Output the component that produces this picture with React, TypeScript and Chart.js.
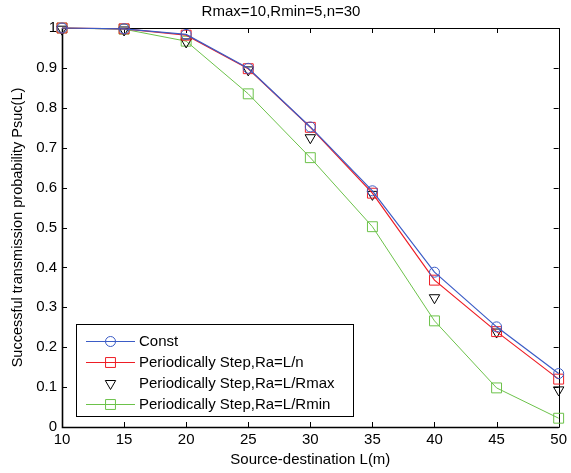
import React, { useEffect, useRef } from 'react';
import { Chart, registerables } from 'chart.js';
import { drawPoint } from 'chart.js/helpers';

Chart.register(...registerables);

const chartTitle = 'Rmax=10,Rmin=5,n=30';
const xAxisTitle = 'Source-destination L(m)';
const yAxisTitle = 'Successful transmission probability Psuc(L)';

const distances = [10, 15, 20, 25, 30, 35, 40, 45, 50];
const constP = [1, 0.998, 0.984, 0.899, 0.752, 0.592, 0.388, 0.251, 0.134];
const stepN = [1, 0.998, 0.982, 0.898, 0.751, 0.586, 0.368, 0.239, 0.12];
const stepRmax = [0.997, 0.995, 0.965, 0.895, 0.725, 0.583, 0.324, 0.238, 0.093];
const stepRmin = [1, 0.997, 0.967, 0.835, 0.675, 0.502, 0.266, 0.098, 0.022];

const seriesLabels = [
  'Const',
  'Periodically Step,Ra=L/n',
  'Periodically Step,Ra=L/Rmax',
  'Periodically Step,Ra=L/Rmin',
];

const xTickValues = [10, 15, 20, 25, 30, 35, 40, 45, 50];
const xTickLabels = ['10', '15', '20', '25', '30', '35', '40', '45', '50'];
const yTickValues = [0, 0.1, 0.2, 0.3, 0.4, 0.5, 0.6, 0.7, 0.8, 0.9, 1];
const yTickLabels = ['0', '0.1', '0.2', '0.3', '0.4', '0.5', '0.6', '0.7', '0.8', '0.9', '1'];

const FONT = 'Arial, "Liberation Sans", sans-serif';

const toPoints = (ys: number[]) => ys.map((y, i) => ({ x: distances[i], y }));

const framePlugin = {
  id: 'matlabFrame',
  beforeDatasetsDraw(chart: any) {
    const { ctx, chartArea } = chart;
    const { left, right, top, bottom } = chartArea;
    const xs = chart.scales.x;
    const ys = chart.scales.y;
    const tl = 5;
    ctx.save();
    ctx.strokeStyle = '#000';
    ctx.lineWidth = 1;
    ctx.beginPath();
    ctx.rect(Math.round(left) + 0.5, Math.round(top) + 0.5, Math.round(right - left), Math.round(bottom - top));
    ctx.stroke();
    ctx.beginPath();
    xTickValues.forEach((v) => {
      const px = Math.round(xs.getPixelForValue(v)) + 0.5;
      ctx.moveTo(px, bottom);
      ctx.lineTo(px, bottom - tl);
      ctx.moveTo(px, top);
      ctx.lineTo(px, top + tl);
    });
    yTickValues.forEach((v) => {
      const py = Math.round(ys.getPixelForValue(v)) + 0.5;
      ctx.moveTo(left, py);
      ctx.lineTo(left + tl, py);
      ctx.moveTo(right, py);
      ctx.lineTo(right - tl, py);
    });
    ctx.stroke();
    // thicker left and bottom axis lines
    ctx.lineWidth = 1.6;
    ctx.beginPath();
    ctx.moveTo(left + 0.5, top);
    ctx.lineTo(left + 0.5, bottom + 0.5);
    ctx.lineTo(right, bottom + 0.5);
    ctx.stroke();
    ctx.restore();
  },
};

const legendPlugin = {
  id: 'matlabLegend',
  afterDraw(chart: any) {
    const { ctx, chartArea } = chart;
    const boxLeft = chartArea.left + 14;
    const boxRight = chartArea.left + 291;
    const boxBottom = chartArea.bottom - 11;
    const rowH = 21;
    const n = chart.data.datasets.length;
    const boxTop = boxBottom - 92;
    ctx.save();
    ctx.fillStyle = '#fff';
    ctx.fillRect(boxLeft, boxTop, boxRight - boxLeft, boxBottom - boxTop);
    ctx.strokeStyle = '#000';
    ctx.lineWidth = 1;
    ctx.strokeRect(Math.round(boxLeft) + 0.5, Math.round(boxTop) + 0.5, Math.round(boxRight - boxLeft), Math.round(boxBottom - boxTop));
    ctx.font = '15px ' + FONT;
    ctx.textBaseline = 'middle';
    ctx.textAlign = 'left';
    for (let i = 0; i < n; i++) {
      const ds = chart.data.datasets[i];
      const y = boxTop + 17 + i * rowH;
      const x0 = boxLeft + 10;
      const x1 = boxLeft + 59;
      if (ds.showLine !== false) {
        ctx.strokeStyle = ds.borderColor;
        ctx.lineWidth = ds.borderWidth;
        ctx.beginPath();
        ctx.moveTo(x0, y + 0.5);
        ctx.lineTo(x1, y + 0.5);
        ctx.stroke();
      }
      ctx.strokeStyle = ds.pointBorderColor;
      ctx.fillStyle = 'rgba(0,0,0,0)';
      ctx.lineWidth = ds.pointBorderWidth;
      drawPoint(ctx, {
        pointStyle: ds.pointStyle,
        rotation: ds.pointRotation || 0,
        radius: ds.pointRadius,
        borderWidth: ds.pointBorderWidth,
      } as any, (x0 + x1) / 2, y + 0.5);
      ctx.fillStyle = '#000';
      ctx.fillText(ds.label, boxLeft + 63, y + 1);
    }
    ctx.restore();
  },
};

export default function App() {
  const canvasRef = useRef<HTMLCanvasElement | null>(null);

  useEffect(() => {
    const canvas = canvasRef.current;
    if (!canvas) return;
    const blue = '#3b5cc6';
    const red = '#ee1d25';
    const black = '#000000';
    const green = '#6cc24a';
    const chart = new Chart(canvas, {
      type: 'line',
      data: {
        datasets: [
          {
            label: seriesLabels[0],
            data: toPoints(constP),
            borderColor: blue,
            borderWidth: 1.2,
            pointStyle: 'circle',
            pointRadius: 5,
            pointBorderColor: blue,
            pointBorderWidth: 1,
            pointBackgroundColor: 'rgba(0,0,0,0)',
            clip: false,
          },
          {
            label: seriesLabels[1],
            data: toPoints(stepN),
            borderColor: red,
            borderWidth: 1.2,
            pointStyle: 'rect',
            pointRadius: 7,
            pointBorderColor: red,
            pointBorderWidth: 1,
            pointBackgroundColor: 'rgba(0,0,0,0)',
            clip: false,
          },
          {
            label: seriesLabels[2],
            data: toPoints(stepRmax),
            borderColor: black,
            borderWidth: 1,
            showLine: false,
            pointStyle: 'triangle',
            pointRotation: 180,
            pointRadius: 6,
            pointBorderColor: black,
            pointBorderWidth: 1,
            pointBackgroundColor: 'rgba(0,0,0,0)',
            clip: false,
          },
          {
            label: seriesLabels[3],
            data: toPoints(stepRmin),
            borderColor: green,
            borderWidth: 1,
            pointStyle: 'rect',
            pointRadius: 7,
            pointBorderColor: green,
            pointBorderWidth: 1,
            pointBackgroundColor: 'rgba(0,0,0,0)',
            clip: false,
          },
        ] as any,
      },
      options: {
        animation: false,
        responsive: false,
        devicePixelRatio: 1,
        layout: { padding: { top: 0, right: 9, left: 0, bottom: 0 } },
        plugins: {
          legend: { display: false },
          tooltip: { enabled: false },
          title: {
            display: true,
            text: chartTitle,
            color: '#000',
            font: { family: FONT, size: 15, weight: 'normal' },
            padding: { top: 3, bottom: 7 },
          },
        },
        elements: { line: { tension: 0 } },
        scales: {
          x: {
            type: 'linear',
            min: 10,
            max: 50,
            grid: { display: false, drawTicks: false },
            border: { display: false },
            afterBuildTicks: (scale: any) => {
              scale.ticks = xTickValues.map((v) => ({ value: v }));
            },
            afterFit: (scale: any) => {
              scale.height = 46;
            },
            ticks: {
              autoSkip: false,
              maxRotation: 0,
              padding: 4,
              color: '#000',
              font: { family: FONT, size: 15 },
              callback: (v: any) => xTickLabels[xTickValues.indexOf(Number(v))],
            },
            title: {
              display: true,
              text: xAxisTitle,
              color: '#000',
              font: { family: FONT, size: 15 },
              padding: { top: 0, bottom: 4 },
            },
          },
          y: {
            min: 0,
            max: 1,
            grid: { display: false, drawTicks: false },
            border: { display: false },
            afterBuildTicks: (scale: any) => {
              scale.ticks = yTickValues.map((v) => ({ value: v }));
            },
            afterFit: (scale: any) => {
              scale.width = 62;
            },
            ticks: {
              autoSkip: false,
              padding: 5,
              color: '#000',
              font: { family: FONT, size: 15 },
              callback: (v: any) => {
                const i = yTickValues.findIndex((t) => Math.abs(t - Number(v)) < 1e-9);
                return i >= 0 ? yTickLabels[i] : '';
              },
            },
            title: {
              display: true,
              text: yAxisTitle,
              color: '#000',
              font: { family: FONT, size: 14.5 },
              padding: { top: 9, bottom: 0 },
            },
          },
        },
      } as any,
      plugins: [framePlugin, legendPlugin],
    });
    return () => chart.destroy();
  }, []);

  return (
    <div style={{ position: 'absolute', left: 0, top: 0, width: 571, height: 473, background: '#fff' }}>
      <canvas ref={canvasRef} width={571} height={473} style={{ width: 571, height: 473, display: 'block' }} />
    </div>
  );
}
